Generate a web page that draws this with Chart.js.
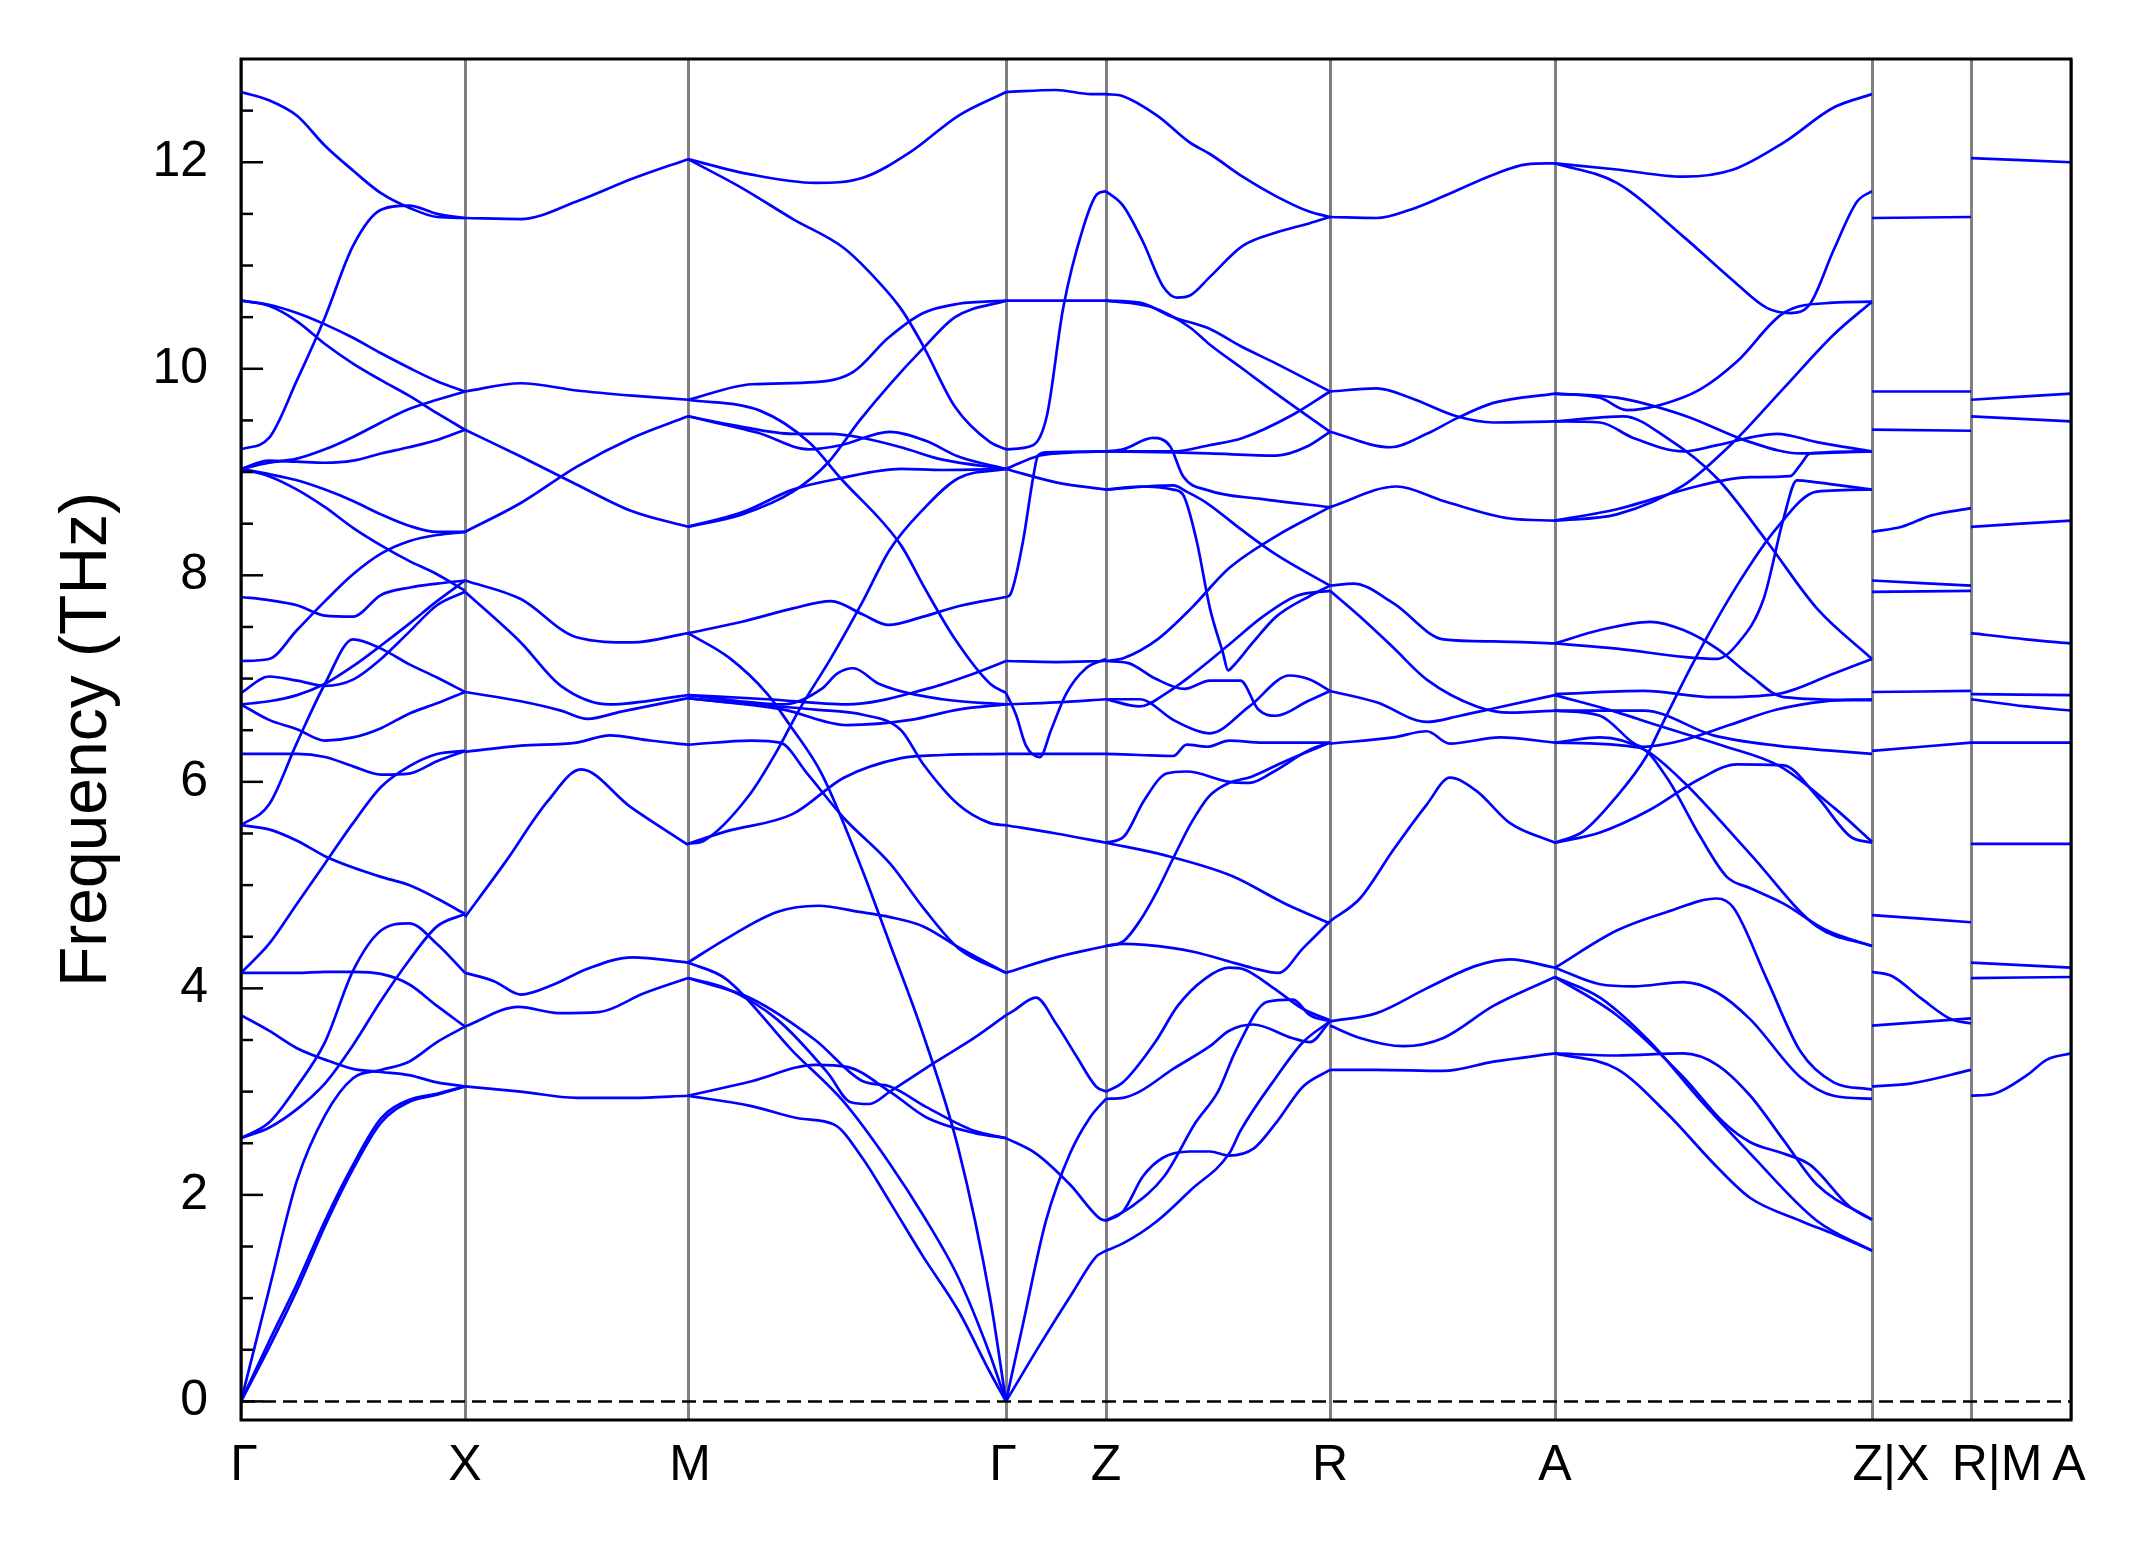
<!DOCTYPE html>
<html>
<head>
<meta charset="utf-8">
<script src="https://cdn.jsdelivr.net/npm/chart.js@4.4.1/dist/chart.umd.min.js"></script>
<style>
  html, body { margin: 0; padding: 0; background: #fff; }
  #wrap { width: 2145px; height: 1549px; }
</style>
</head>
<body>
<div id="wrap"><canvas id="bands" width="2145" height="1549"></canvas></div>
<script>
// k-path labels and their positions along the path
const kLabels = ["Γ", "X", "M", "Γ", "Z", "R", "A", "Z|X", "R|M", "A"];
const kPos = [0, 224, 447, 765, 865, 1089, 1314, 1631, 1730, 1830];
// where the labels sit (the two joined labels sit a little right of their line)
const kLabelPos = [3, 224, 449, 762, 865, 1089, 1314, 1650, 1756, 1828];
const yTicks = [0, 2, 4, 6, 8, 10, 12];

// branches per segment. a plain list = evenly spaced samples,
// a list of [t, THz] pairs = samples at fraction t of the segment
const bandsGX = [
  [12.68, 12.6, 12.45, 12.16, 11.92, 11.70, 11.56, 11.47, 11.46],
  [9.22, 9.33, 9.89, 10.5, 11.19, 11.54, 11.58, 11.50, 11.46],
  [10.66, 10.62, 10.54, 10.43, 10.30, 10.15, 10.01, 9.88, 9.78],
  [10.66, 10.61, 10.46, 10.24, 10.05, 9.89, 9.74, 9.57, 9.41],
  [9.03, 9.09, 9.13, 9.22, 9.34, 9.48, 9.61, 9.70, 9.78],
  [9.03, 9.11, 9.10, 9.09, 9.11, 9.18, 9.24, 9.31, 9.41],
  [9.03, 8.98, 8.92, 8.83, 8.72, 8.59, 8.48, 8.42, 8.42],
  [9.03, 8.96, 8.83, 8.66, 8.46, 8.29, 8.14, 8.01, 7.85],
  [7.79, 7.76, 7.71, 7.61, 7.60, 7.81, 7.88, 7.92, 7.95],
  [7.17, 7.19, 7.47, 7.75, 8.01, 8.21, 8.33, 8.39, 8.42],
  [6.86, 7.02, 6.98, 6.93, 6.99, 7.19, 7.45, 7.71, 7.84],
  [6.75, 6.78, 6.84, 6.95, 7.12, 7.32, 7.53, 7.75, 7.95],
  [6.75, 6.60, 6.51, 6.40, 6.43, 6.52, 6.66, 6.76, 6.87],
  [5.58, 5.78, 6.38, 6.95, 7.38, 7.29, 7.14, 7.01, 6.87],
  [6.27, 6.27, 6.27, 6.24, 6.15, 6.07, 6.08, 6.20, 6.30],
  [5.58, 5.54, 5.43, 5.28, 5.17, 5.08, 5.00, 4.87, 4.72],
  [4.15, 4.43, 4.82, 5.21, 5.60, 5.95, 6.15, 6.27, 6.30],
  [4.15, 4.15, 4.15, 4.16, 4.16, 4.14, 4.04, 3.83, 3.63],
  [3.74, 3.59, 3.42, 3.31, 3.22, 3.19, 3.16, 3.09, 3.05],
  [2.55, 2.70, 3.05, 3.48, 4.17, 4.56, 4.63, 4.43, 4.15],
  [2.55, 2.65, 2.83, 3.08, 3.45, 3.88, 4.27, 4.60, 4.72],
  [0, 1.08, 2.14, 2.77, 3.13, 3.21, 3.29, 3.48, 3.63],
  [0, 0.58, 1.14, 1.75, 2.29, 2.74, 2.92, 2.98, 3.05],
  [0, 0.52, 1.08, 1.70, 2.25, 2.70, 2.90, 2.97, 3.05],
];

const bandsXM = [
  [11.46, 11.45, 11.62, 11.84, 12.03],
  [9.78, 9.86, 9.79, 9.74, 9.70],
  [9.41, 9.15, 8.88, 8.62, 8.47],
  [8.42, 8.70, 9.05, 9.33, 9.54],
  [7.95, 7.77, 7.40, 7.35, 7.44],
  [[0, 7.84], [0.25, 7.35], [0.43, 6.93], [0.65, 6.75], [1, 6.84]],
  [[0, 6.87], [0.25, 6.78], [0.43, 6.69], [0.55, 6.61], [0.7, 6.68], [1, 6.81]],
  [[0, 6.29], [0.25, 6.35], [0.5, 6.38], [0.65, 6.45], [0.83, 6.40], [1, 6.36]],
  [[0, 4.69], [0.18, 5.22], [0.37, 5.81], [0.52, 6.12], [0.74, 5.76], [1, 5.39]],
  [[0, 4.15], [0.13, 4.07], [0.25, 3.94], [0.4, 4.04], [0.55, 4.19], [0.75, 4.30], [1, 4.25]],
  [[0, 3.63], [0.24, 3.82], [0.42, 3.76], [0.6, 3.77], [0.8, 3.95], [1, 4.10]],
  [3.05, 3.00, 2.94, 2.94, 2.96],
];

const bandsMG = [
  [[0, 12.03], [0.2, 11.88], [0.4, 11.8], [0.55, 11.85], [0.7, 12.1], [0.85, 12.45], [1, 12.68]],
  [[0, 12.03], [0.17, 11.75], [0.33, 11.45], [0.49, 11.17], [0.6, 10.84], [0.67, 10.58], [0.74, 10.22], [0.84, 9.63], [0.95, 9.29], [1, 9.22]],
  [[0, 9.70], [0.2, 9.85], [0.4, 9.87], [0.52, 9.97], [0.63, 10.3], [0.74, 10.54], [0.85, 10.63], [1, 10.66]],
  [[0, 8.47], [0.17, 8.59], [0.33, 8.81], [0.44, 9.09], [0.54, 9.5], [0.635, 9.85], [0.74, 10.2], [0.84, 10.5], [1, 10.66]],
  [[0, 8.47], [0.17, 8.61], [0.33, 8.83], [0.48, 8.94], [0.67, 9.03], [0.8, 9.02], [1, 9.03]],
  [[0, 9.54], [0.22, 9.38], [0.38, 9.22], [0.48, 9.26], [0.635, 9.39], [0.75, 9.3], [0.85, 9.15], [1, 9.03]],
  [[0, 9.54], [0.15, 9.45], [0.33, 9.37], [0.45, 9.37], [0.55, 9.33], [0.67, 9.24], [0.8, 9.12], [1, 9.03]],
  [[0, 9.70], [0.23, 9.59], [0.38, 9.29], [0.48, 8.94], [0.67, 8.29], [0.74, 7.9], [0.84, 7.38], [0.95, 6.95], [1, 6.86]],
  [[0, 7.44], [0.17, 7.55], [0.33, 7.68], [0.45, 7.75], [0.55, 7.62], [0.63, 7.52], [0.74, 7.6], [0.85, 7.70], [1, 7.79]],
  [[0, 7.44], [0.13, 7.2], [0.25, 6.85], [0.32, 6.55], [0.42, 6.08], [0.54, 5.21], [0.635, 4.43], [0.74, 3.55], [0.85, 2.45], [0.95, 1.0], [1, 0]],
  [[0, 5.40], [0.05, 5.43], [0.19, 5.86], [0.28, 6.3], [0.35, 6.7], [0.45, 7.2], [0.55, 7.75], [0.635, 8.25], [0.74, 8.64], [0.85, 8.94], [1, 9.03]],
  [[0, 5.40], [0.12, 5.52], [0.33, 5.69], [0.49, 6.04], [0.67, 6.23], [0.8, 6.26], [1, 6.27]],
  [[0, 4.25], [0.12, 4.48], [0.28, 4.74], [0.41, 4.80], [0.54, 4.74], [0.635, 4.69], [0.74, 4.6], [0.85, 4.4], [1, 4.15]],
  [[0, 4.25], [0.12, 4.09], [0.33, 3.39], [0.49, 2.9], [0.635, 2.3], [0.74, 1.8], [0.85, 1.2], [0.95, 0.45], [1, 0]],
  [[0, 4.10], [0.12, 4.0], [0.28, 3.7], [0.44, 3.18], [0.51, 2.9], [0.57, 2.88], [0.635, 3.0], [0.78, 3.29], [0.9, 3.52], [1, 3.74]],
  [[0, 2.96], [0.2, 2.86], [0.35, 2.74], [0.46, 2.68], [0.55, 2.35], [0.635, 1.93], [0.74, 1.4], [0.85, 0.88], [0.95, 0.28], [1, 0]],
  [[0, 2.96], [0.2, 3.1], [0.4, 3.26], [0.5, 3.24], [0.635, 3.0], [0.75, 2.75], [0.9, 2.6], [1, 2.55]],
  [[0, 4.10], [0.2, 3.9], [0.4, 3.5], [0.55, 3.1], [0.635, 3.05], [0.75, 2.85], [0.9, 2.62], [1, 2.55]],
  [[0, 6.36], [0.2, 6.4], [0.29, 6.38], [0.375, 6.08], [0.49, 5.65], [0.635, 5.21], [0.74, 4.78], [0.85, 4.39], [1, 4.15]],
  [[0, 6.81], [0.2, 6.75], [0.4, 6.7], [0.55, 6.65], [0.67, 6.5], [0.74, 6.17], [0.85, 5.78], [0.95, 5.6], [1, 5.58]],
  [[0, 6.84], [0.25, 6.8], [0.5, 6.75], [0.75, 6.9], [0.9, 7.05], [1, 7.17]],
  [[0, 6.84], [0.3, 6.75], [0.42, 6.9], [0.47, 7.05], [0.52, 7.1], [0.6, 6.95], [0.8, 6.8], [1, 6.75]],
  [[0, 6.81], [0.3, 6.7], [0.5, 6.55], [0.7, 6.6], [0.85, 6.7], [1, 6.75]],
];

const bandsGZ = [
  [[0, 12.68], [0.5, 12.70], [0.85, 12.66], [1, 12.66]],
  [[0, 9.22], [0.27, 9.26], [0.41, 9.55], [0.57, 10.58], [0.77, 11.36], [0.91, 11.69], [1, 11.72]],
  [[0, 10.66], [1, 10.66]],
  [[0, 9.03], [0.34, 9.16], [0.67, 9.19], [1, 9.20]],
  [[0, 9.03], [0.5, 8.9], [1, 8.83]],
  [[0, 7.79], [0.04, 7.81], [0.17, 8.33], [0.27, 8.94], [0.32, 9.16], [0.41, 9.19], [1, 9.20]],
  [[0, 7.17], [0.5, 7.16], [1, 7.17]],
  [[0, 6.86], [0.1, 6.65], [0.2, 6.35], [0.34, 6.24], [0.45, 6.5], [0.6, 6.85], [0.8, 7.1], [1, 7.19]],
  [[0, 6.75], [0.5, 6.77], [1, 6.80]],
  [[0, 6.27], [1, 6.27]],
  [[0, 5.58], [0.5, 5.50], [1, 5.41]],
  [[0, 4.15], [0.5, 4.3], [1, 4.41]],
  [[0, 3.74], [0.07, 3.78], [0.3, 3.91], [0.5, 3.66], [0.7, 3.35], [0.9, 3.05], [1, 3.0]],
  [[0, 2.55], [0.3, 2.4], [0.64, 2.1], [0.94, 1.77], [1, 1.75]],
  [[0, 0], [0.17, 0.75], [0.4, 1.75], [0.64, 2.4], [0.84, 2.75], [1, 2.93]],
  [[0, 0], [0.34, 0.55], [0.67, 1.06], [0.9, 1.4], [1, 1.46]],
];

const bandsZR = [
  [[0, 12.66], [0.076, 12.64], [0.23, 12.45], [0.375, 12.19], [0.464, 12.08], [0.61, 11.86], [0.76, 11.67], [0.91, 11.52], [1, 11.47]],
  [[0, 11.72], [0.076, 11.58], [0.165, 11.23], [0.254, 10.8], [0.317, 10.69], [0.375, 10.71], [0.464, 10.89], [0.61, 11.19], [0.76, 11.32], [0.91, 11.41], [1, 11.47]],
  [[0, 10.66], [0.15, 10.64], [0.3, 10.5], [0.46, 10.39], [0.6, 10.22], [0.76, 10.05], [1, 9.78]],
  [[0, 10.66], [0.2, 10.6], [0.375, 10.4], [0.46, 10.24], [0.61, 10.0], [0.76, 9.76], [1, 9.39]],
  [[0, 9.20], [0.076, 9.22], [0.21, 9.33], [0.286, 9.25], [0.344, 8.96], [0.46, 8.82], [0.69, 8.74], [1, 8.66]],
  [[0, 9.20], [0.3, 9.19], [0.46, 9.18], [0.76, 9.16], [0.9, 9.25], [1, 9.39]],
  [[0, 9.20], [0.3, 9.2], [0.46, 9.26], [0.61, 9.33], [0.83, 9.55], [1, 9.78]],
  [[0, 8.83], [0.15, 8.86], [0.3, 8.83], [0.344, 8.78], [0.405, 8.33], [0.464, 7.68], [0.522, 7.25], [0.545, 7.08], [0.567, 7.12], [0.656, 7.35], [0.76, 7.6], [0.91, 7.8], [1, 7.90]],
  [[0, 8.83], [0.3, 8.87], [0.36, 8.81], [0.45, 8.7], [0.6, 8.45], [0.76, 8.2], [1, 7.90]],
  [[0, 7.17], [0.08, 7.2], [0.23, 7.38], [0.38, 7.68], [0.55, 8.07], [0.76, 8.38], [1, 8.66]],
  [[0, 6.80], [0.15, 6.73], [0.27, 6.86], [0.38, 7.03], [0.55, 7.33], [0.7, 7.6], [0.85, 7.8], [1, 7.85]],
  [[0, 7.17], [0.1, 7.15], [0.22, 7.0], [0.35, 6.9], [0.464, 6.98], [0.6, 6.98], [0.68, 6.7], [0.76, 6.64], [0.9, 6.78], [1, 6.88]],
  [[0, 6.80], [0.15, 6.8], [0.3, 6.6], [0.4, 6.5], [0.464, 6.47], [0.64, 6.73], [0.82, 7.03], [0.91, 6.99], [1, 6.88]],
  [[0, 6.27], [0.15, 6.26], [0.3, 6.25], [0.36, 6.36], [0.45, 6.34], [0.55, 6.4], [0.7, 6.38], [1, 6.38]],
  [[0, 5.41], [0.08, 5.47], [0.17, 5.82], [0.27, 6.08], [0.36, 6.1], [0.55, 6.0], [0.64, 5.99], [0.75, 6.1], [0.9, 6.3], [1, 6.38]],
  [[0, 4.41], [0.08, 4.46], [0.15, 4.65], [0.23, 4.95], [0.3, 5.26], [0.38, 5.6], [0.46, 5.86], [0.55, 5.99], [0.65, 6.05], [0.8, 6.2], [1, 6.38]],
  [[0, 5.41], [0.26, 5.29], [0.56, 5.09], [0.8, 4.82], [1, 4.63]],
  [[0, 4.41], [0.076, 4.43], [0.3, 4.39], [0.4, 4.35], [0.55, 4.26], [0.65, 4.2], [0.77, 4.15], [0.88, 4.39], [1, 4.65]],
  [[0, 3.0], [0.076, 3.09], [0.22, 3.48], [0.32, 3.83], [0.44, 4.09], [0.55, 4.2], [0.62, 4.18], [0.75, 4.0], [0.88, 3.8], [1, 3.69]],
  [[0, 2.93], [0.076, 2.94], [0.15, 3.0], [0.3, 3.22], [0.464, 3.44], [0.55, 3.59], [0.656, 3.65], [0.83, 3.52], [0.91, 3.48], [1, 3.68]],
  [[0, 1.75], [0.076, 1.84], [0.165, 2.18], [0.254, 2.36], [0.375, 2.42], [0.464, 2.42], [0.55, 2.38], [0.66, 2.45], [0.76, 2.70], [0.88, 3.05], [1, 3.21]],
  [[0, 1.75], [0.11, 1.88], [0.26, 2.18], [0.4, 2.7], [0.5, 3.0], [0.58, 3.4], [0.72, 3.87], [0.835, 3.89], [0.91, 3.74], [1, 3.68]],
  [[0, 1.46], [0.076, 1.53], [0.23, 1.75], [0.38, 2.05], [0.55, 2.4], [0.6, 2.62], [0.76, 3.14], [0.88, 3.48], [1, 3.68]],
];

const bandsRA = [
  [[0, 11.47], [0.207, 11.46], [0.356, 11.54], [0.504, 11.67], [0.726, 11.88], [0.874, 11.98], [1, 11.99]],
  [[0, 9.78], [0.207, 9.81], [0.356, 9.72], [0.563, 9.54], [0.726, 9.48], [1, 9.49]],
  [[0, 9.39], [0.267, 9.24], [0.43, 9.37], [0.563, 9.52], [0.726, 9.67], [1, 9.76]],
  [[0, 8.66], [0.296, 8.86], [0.504, 8.72], [0.8, 8.55], [1, 8.53]],
  [[0, 7.90], [0.104, 7.92], [0.281, 7.73], [0.504, 7.38], [0.726, 7.36], [1, 7.34]],
  [[0, 7.85], [0.133, 7.6], [0.281, 7.3], [0.43, 6.99], [0.652, 6.73], [0.8, 6.67], [1, 6.69]],
  [[0, 6.88], [0.207, 6.77], [0.43, 6.58], [0.578, 6.64], [0.726, 6.71], [1, 6.84]],
  [[0, 6.37], [0.281, 6.43], [0.43, 6.49], [0.533, 6.37], [0.756, 6.43], [1, 6.38]],
  [[0, 4.65], [0.133, 4.87], [0.281, 5.34], [0.43, 5.78], [0.533, 6.04], [0.652, 5.91], [0.8, 5.60], [1, 5.41]],
  [[0, 3.68], [0.207, 3.76], [0.43, 4.0], [0.652, 4.22], [0.8, 4.28], [1, 4.20]],
  [[0, 3.64], [0.133, 3.52], [0.326, 3.44], [0.504, 3.52], [0.726, 3.83], [1, 4.11]],
  [[0, 3.21], [0.207, 3.21], [0.504, 3.2], [0.726, 3.29], [1, 3.37]],
];

const bandsAZ = [
  [[0, 11.99], [0.195, 11.93], [0.405, 11.86], [0.563, 11.93], [0.721, 12.19], [0.879, 12.53], [1, 12.66]],
  [[0, 11.99], [0.195, 11.8], [0.405, 11.28], [0.563, 10.85], [0.668, 10.59], [0.742, 10.54], [0.805, 10.63], [0.879, 11.15], [0.953, 11.62], [1, 11.72]],
  [[0, 9.76], [0.142, 9.72], [0.226, 9.6], [0.332, 9.65], [0.458, 9.80], [0.574, 10.07], [0.721, 10.54], [0.879, 10.64], [1, 10.65]],
  [[0, 9.76], [0.195, 9.72], [0.405, 9.55], [0.616, 9.29], [0.774, 9.18], [1, 9.20]],
  [[0, 9.49], [0.142, 9.48], [0.247, 9.33], [0.405, 9.2], [0.511, 9.26], [0.7, 9.37], [0.826, 9.29], [1, 9.20]],
  [[0, 9.49], [0.216, 9.54], [0.353, 9.33], [0.511, 8.94], [0.668, 8.33], [0.826, 7.68], [1, 7.19]],
  [[0, 8.53], [0.195, 8.59], [0.405, 8.87], [0.563, 9.29], [0.721, 9.81], [0.879, 10.33], [1, 10.65]],
  [[0, 8.53], [0.195, 8.64], [0.458, 8.87], [0.616, 8.95], [0.742, 8.96], [0.774, 9.07], [0.805, 9.18], [1, 9.20]],
  [[0, 7.34], [0.142, 7.47], [0.3, 7.55], [0.405, 7.47], [0.511, 7.29], [0.616, 7.03], [0.721, 6.82], [1, 6.79]],
  [[0, 7.34], [0.195, 7.29], [0.405, 7.21], [0.511, 7.19], [0.574, 7.33], [0.658, 7.77], [0.721, 8.55], [0.763, 8.92], [0.826, 8.9], [1, 8.83]],
  [[0, 6.84], [0.19, 6.68], [0.32, 6.55], [0.53, 6.35], [0.71, 6.15], [0.88, 5.75], [1, 5.42]],
  [[0, 6.85], [0.28, 6.88], [0.5, 6.82], [0.7, 6.85], [0.88, 7.05], [1, 7.19]],
  [[0, 6.69], [0.28, 6.69], [0.5, 6.45], [0.7, 6.35], [0.88, 6.3], [1, 6.27]],
  [[0, 6.69], [0.142, 6.64], [0.28, 6.34], [0.4, 6.4], [0.55, 6.55], [0.7, 6.7], [0.85, 6.78], [1, 6.80]],
  [[0, 6.38], [0.268, 6.33], [0.353, 6.04], [0.458, 5.47], [0.542, 5.08], [0.616, 4.97], [0.721, 4.82], [0.858, 4.56], [1, 4.41]],
  [[0, 6.38], [0.142, 6.43], [0.289, 6.3], [0.405, 6.0], [0.616, 5.3], [0.826, 4.6], [1, 4.41]],
  [[0, 5.41], [0.089, 5.52], [0.195, 5.86], [0.289, 6.25], [0.321, 6.45], [0.437, 7.16], [0.574, 7.9], [0.7, 8.46], [0.826, 8.81], [1, 8.83]],
  [[0, 5.41], [0.142, 5.51], [0.3, 5.73], [0.458, 6.03], [0.574, 6.17], [0.721, 6.16], [0.826, 5.86], [0.932, 5.47], [1, 5.41]],
  [[0, 4.20], [0.195, 4.56], [0.353, 4.74], [0.511, 4.87], [0.563, 4.78], [0.668, 4.09], [0.774, 3.39], [0.879, 3.09], [1, 3.02]],
  [[0, 4.20], [0.142, 4.04], [0.247, 4.02], [0.405, 4.06], [0.511, 3.96], [0.616, 3.7], [0.774, 3.14], [0.879, 2.96], [1, 2.93]],
  [[0, 4.11], [0.195, 3.74], [0.405, 3.14], [0.532, 2.7], [0.616, 2.51], [0.721, 2.4], [0.805, 2.29], [0.932, 1.88], [1, 1.76]],
  [[0, 4.11], [0.142, 3.91], [0.3, 3.48], [0.458, 2.92], [0.616, 2.4], [0.826, 1.75], [1, 1.46]],
  [[0, 3.37], [0.195, 3.35], [0.405, 3.37], [0.511, 3.26], [0.616, 2.96], [0.721, 2.53], [0.826, 2.1], [1, 1.76]],
  [[0, 3.37], [0.195, 3.22], [0.353, 2.79], [0.511, 2.27], [0.616, 1.97], [0.774, 1.75], [0.879, 1.62], [1, 1.46]],
];

const bandsXR = [
  [11.46, 11.47],
  [9.78, 9.78],
  [9.41, 9.40],
  [[0, 8.42], [0.3, 8.47], [0.6, 8.58], [1, 8.65]],
  [7.95, 7.90],
  [7.84, 7.85],
  [6.87, 6.88],
  [[0, 6.30], [0.5, 6.34], [1, 6.38]],
  [4.71, 4.64],
  [[0, 4.16], [0.2, 4.12], [0.5, 3.9], [0.8, 3.7], [1, 3.66]],
  [3.64, 3.71],
  [[0, 3.05], [0.4, 3.08], [1, 3.21]],
];

const bandsMA = [
  [12.04, 12.00],
  [9.70, 9.76],
  [9.54, 9.49],
  [8.47, 8.53],
  [[0, 7.44], [0.55, 7.38], [1, 7.34]],
  [6.85, 6.84],
  [[0, 6.80], [0.55, 6.73], [1, 6.69]],
  [6.38, 6.38],
  [5.40, 5.40],
  [4.25, 4.20],
  [4.10, 4.11],
  [[0, 2.96], [0.23, 2.98], [0.56, 3.16], [0.76, 3.31], [1, 3.37]],
];

const segments = [
  [bandsGX, 0, 1], [bandsXM, 1, 2], [bandsMG, 2, 3], [bandsGZ, 3, 4],
  [bandsZR, 4, 5], [bandsRA, 5, 6], [bandsAZ, 6, 7], [bandsXR, 7, 8], [bandsMA, 8, 9],
];

const datasets = [];
datasets.push({
  data: [{ x: kPos[0], y: 0 }, { x: kPos[kPos.length - 1], y: 0 }],
  borderColor: "#000000",
  borderWidth: 2.5,
  borderDash: [14, 7],
  pointRadius: 0,
});
segments.forEach(([branches, i0, i1]) => {
  const x0 = kPos[i0], x1 = kPos[i1];
  branches.forEach((br) => {
    const pts = typeof br[0] === "number"
      ? br.map((f, i) => [i / (br.length - 1), f])
      : br;
    datasets.push({
      data: pts.map(([t, f]) => ({ x: x0 + t * (x1 - x0), y: f })),
      borderColor: "#0000ff",
      borderWidth: 2.7,
      pointRadius: 0,
      cubicInterpolationMode: "monotone",
    });
  });
});

// frame and inward ticks on the frequency axis
const framePlugin = {
  id: "frame",
  afterDraw(chart) {
    const { ctx, chartArea: a, scales } = chart;
    const y = scales.y;
    ctx.save();
    ctx.strokeStyle = "#000";
    ctx.lineWidth = 2.5;
    for (let v = 0; v <= 12.5; v += 0.5) {
      const py = y.getPixelForValue(v);
      const len = v % 2 === 0 ? 22 : 12;
      ctx.beginPath();
      ctx.moveTo(a.left, py);
      ctx.lineTo(a.left + len, py);
      ctx.stroke();
    }
    ctx.lineWidth = 3;
    ctx.strokeRect(a.left, a.top, a.right - a.left, a.bottom - a.top);
    ctx.restore();
  },
};

Chart.defaults.font.family = "'Liberation Sans', Arial, sans-serif";
Chart.defaults.color = "#000";

new Chart(document.getElementById("bands"), {
  type: "line",
  data: { datasets },
  options: {
    responsive: false,
    animation: false,
    events: [],
    layout: { padding: { top: 59, right: 74, left: 0, bottom: 0 } },
    plugins: { legend: { display: false }, tooltip: { enabled: false } },
    scales: {
      x: {
        type: "linear",
        min: kPos[0],
        max: kPos[kPos.length - 1],
        afterBuildTicks: (scale) => { scale.ticks = kLabelPos.map((v) => ({ value: v })); },
        afterFit: (scale) => { scale.height = 129; },
        ticks: {
          autoSkip: false,
          maxRotation: 0,
          padding: 16,
          font: { size: 50 },
          callback: (v, i) => kLabels[i],
        },
        grid: { display: false, drawTicks: false },
        border: { display: false },
      },
      // second axis only for the gray high-symmetry lines
      kx: {
        type: "linear",
        position: "bottom",
        min: kPos[0],
        max: kPos[kPos.length - 1],
        afterBuildTicks: (scale) => { scale.ticks = kPos.map((v) => ({ value: v })); },
        afterFit: (scale) => { scale.height = 0; },
        ticks: { display: false },
        grid: { color: "#808080", lineWidth: 3, drawTicks: false },
        border: { display: false },
      },
      y: {
        min: -0.18,
        max: 13.0,
        afterBuildTicks: (scale) => { scale.ticks = yTicks.map((v) => ({ value: v })); },
        afterFit: (scale) => {
          scale.width = 241;
          scale.paddingTop = 0;
          scale.paddingBottom = 0;
        },
        ticks: { padding: 33, font: { size: 50 } },
        grid: { display: false, drawTicks: false },
        border: { display: false },
        title: {
          display: true,
          text: "Frequency (THz)",
          font: { size: 66 },
          padding: { top: 48, bottom: 0 },
        },
      },
    },
  },
  plugins: [framePlugin],
});
</script>
</body>
</html>
